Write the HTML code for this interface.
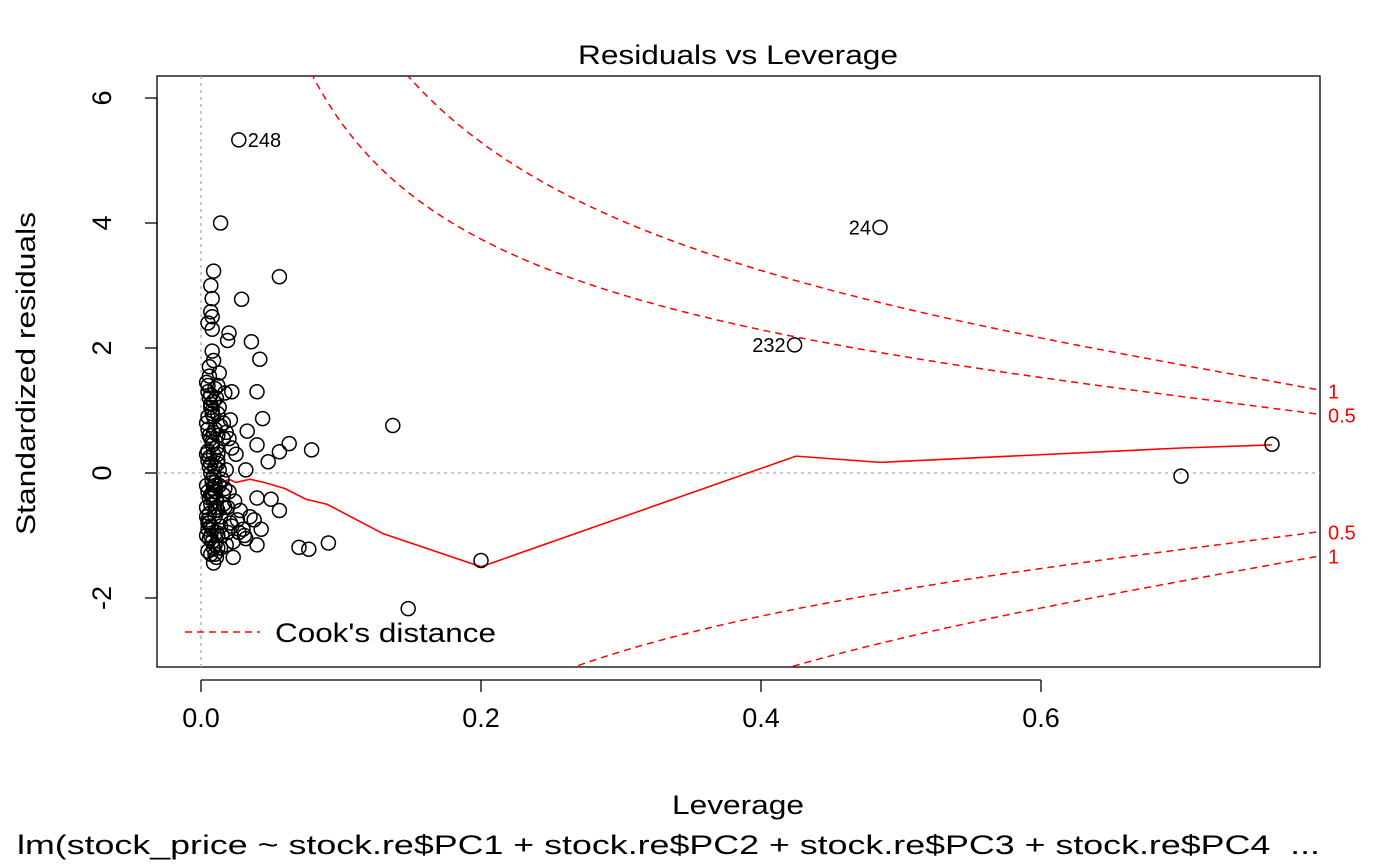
<!DOCTYPE html>
<html><head><meta charset="utf-8"><style>
html,body{margin:0;padding:0;background:#fff;width:1400px;height:865px;overflow:hidden}
svg{display:block;font-family:"Liberation Sans",Arial,sans-serif}
</style></head><body>
<svg id="chart" width="1400" height="865" viewBox="0 0 1400 865">
<defs><clipPath id="plotclip"><rect x="157" y="76" width="1163" height="591"/></clipPath></defs>
<text x="578" y="64" font-size="27" textLength="320" lengthAdjust="spacingAndGlyphs">Residuals vs Leverage</text>
<rect x="157" y="76" width="1163" height="591" fill="none" stroke="#000" stroke-width="1.3"/>
<g id="xaxis"></g>
<g id="yaxis"></g>
<text x="672" y="814" font-size="27" textLength="132" lengthAdjust="spacingAndGlyphs">Leverage</text>
<text x="17" y="854" font-size="27" textLength="1303" lengthAdjust="spacingAndGlyphs" xml:space="preserve">lm(stock_price ~ stock.re$PC1 + stock.re$PC2 + stock.re$PC3 + stock.re$PC4  ...</text>
<text transform="translate(35,535) rotate(-90)" font-size="27" textLength="323" lengthAdjust="spacingAndGlyphs">Standardized residuals</text>
<g clip-path="url(#plotclip)" id="plotarea"></g>
<g id="labels"></g>
<g>
<line x1="185" y1="632" x2="260" y2="632" stroke="#f00" stroke-width="1.5" stroke-dasharray="7,5"/>
<text x="275" y="642" font-size="27" textLength="221" lengthAdjust="spacingAndGlyphs">Cook's distance</text>
</g>
</svg>
<script>
const xTicks=[0.0,0.2,0.4,0.6];
const xTickLabels=["0.0","0.2","0.4","0.6"];
const yTicks=[-2,0,2,4,6];
const yTickLabels=["-2","0","2","4","6"];
const cookLevels=[0.5,1];
const cookLabels=["0.5","1"];
const nParams=7;
const leverage=[0.027,0.485,0.424,0.014,0.009,0.056,0.007,0.029,0.008,0.007,0.008,0.005,0.008,0.02,0.036,0.019,0.042,0.008,0.009,0.006,0.013,0.04,0.022,0.017,0.137,0.044,0.079,0.063,0.056,0.048,0.033,0.04,0.032,0.7,0.765,0.2,0.148,0.07,0.077,0.091,0.056,0.05,0.04,0.04,0.023,0.009,0.031,
0.004,0.005,0.006,0.007,0.008,0.009,0.01,0.011,0.012,0.013,0.004,0.005,0.006,0.007,0.008,0.009,0.01,0.011,0.012,0.014,0.016,0.018,0.02,0.022,0.025,0.004,0.005,0.006,0.007,0.008,0.009,0.01,0.012,0.015,0.018,0.004,0.005,0.006,0.007,0.008,0.009,0.011,0.013,0.016,0.02,0.024,0.028,0.004,0.005,0.006,0.007,0.008,0.01,0.012,0.014,0.017,0.021,0.026,0.03,0.035,0.004,0.006,0.008,0.01,0.012,0.015,0.019,0.023,0.038,0.043,0.005,0.007,0.009,0.011,0.014,0.018,0.022,0.027,0.032,0.005,0.007,0.009,0.012,0.016,0.021,0.004,0.006,0.008,0.01,0.013,0.017,
0.005,0.006,0.007,0.008,0.009,0.01,0.011,0.012,0.005,0.006,0.007,0.008,0.009,0.01,0.011,0.005,0.006,0.007,0.008,0.009,0.01,0.012,0.005,0.007,0.009,0.011,0.013,0.006,0.008,0.01,0.012,0.014,0.016,0.019];
const residuals=[5.33,3.93,2.05,4.0,3.23,3.14,3.0,2.78,2.79,2.58,2.5,2.4,2.3,2.24,2.1,2.12,1.82,1.95,1.8,1.7,1.6,1.3,1.3,1.28,0.76,0.87,0.37,0.47,0.34,0.18,0.67,0.45,0.05,-0.05,0.46,-1.4,-2.17,-1.19,-1.22,-1.12,-0.6,-0.42,-0.4,-1.15,-1.35,-1.44,-1.0,
1.45,1.4,1.2,1.1,1.0,0.9,1.35,1.2,1.4,1.05,0.8,0.7,0.6,0.55,0.5,0.65,0.7,0.4,0.6,0.75,0.55,0.65,0.55,0.4,0.3,0.3,0.2,0.1,0.0,-0.1,-0.05,0.1,0.15,-0.1,0.05,-0.2,-0.3,-0.4,-0.5,-0.35,-0.25,-0.45,-0.2,-0.5,-0.3,-0.45,-0.6,-0.7,-0.75,-0.8,-0.85,-0.9,-0.7,-0.6,-0.85,-0.55,-0.8,-0.75,-0.9,-0.7,-1.0,-1.05,-1.1,-1.15,-1.2,-1.0,-0.95,-1.1,-0.75,-0.9,-1.25,-1.3,-1.2,-1.35,-1.2,-1.15,-0.85,-0.95,-1.05,0.9,1.05,1.15,0.95,0.8,0.85,-0.55,-0.65,-0.4,-0.3,-0.2,-0.25,
0.35,0.25,0.15,-0.15,-0.35,-0.6,-0.45,0.2,-0.9,-0.65,-0.35,0.45,0.3,-0.2,-0.55,1.3,1.55,1.25,0.45,-0.05,-1.3,-1.0,-0.8,-1.0,1.15,-0.95,0.05,0.6,0.95,-0.15,0.3,-0.7,-0.35,-0.55];
const pointLabels=["248","24","232"];
const smoothX=[0.004,0.01,0.015,0.02,0.025,0.035,0.045,0.06,0.075,0.09,0.13,0.2,0.425,0.485,0.7,0.765];
const smoothY=[-0.2,-0.2,-0.15,-0.1,-0.15,-0.1,-0.15,-0.25,-0.42,-0.5,-0.97,-1.5,0.27,0.17,0.4,0.45];

const NS="http://www.w3.org/2000/svg";
const X=h=>201+1400*h, Y=r=>473-62.5*r;
function mk(tag,attrs,parent){const e=document.createElementNS(NS,tag);for(const k in attrs)e.setAttribute(k,attrs[k]);parent.appendChild(e);return e;}
const xa=document.getElementById('xaxis'), ya=document.getElementById('yaxis'), pa=document.getElementById('plotarea'), lb=document.getElementById('labels');
mk('line',{x1:X(xTicks[0]),y1:680,x2:X(xTicks[xTicks.length-1]),y2:680,stroke:'#000','stroke-width':1.3},xa);
xTicks.forEach((t,i)=>{
 const l=mk('line',{x1:X(t),y1:680,x2:X(t),y2:692,stroke:'#000','stroke-width':1.3},xa);
 
 
 const tx=mk('text',{x:X(t),y:727,'font-size':27,'text-anchor':'middle'},xa);tx.textContent=xTickLabels[i];
 
 
});
mk('line',{x1:157,y1:Y(yTicks[0]),x2:157,y2:Y(yTicks[yTicks.length-1]),stroke:'#000','stroke-width':1.3},ya);
yTicks.forEach((t,i)=>{
 const l=mk('line',{x1:145,y1:Y(t),x2:157,y2:Y(t),stroke:'#000','stroke-width':1.3},ya);
 
 
 const tx=mk('text',{transform:`translate(111,${Y(t)}) rotate(-90)`,'font-size':27,'text-anchor':'middle'},ya);tx.textContent=yTickLabels[i];
 
 
});
const vr=mk('line',{x1:X(0),y1:76,x2:X(0),y2:667,stroke:'#aaa','stroke-width':1.3,'stroke-dasharray':'3,4'},pa);


const hr=mk('line',{x1:157,y1:Y(0),x2:1320,y2:Y(0),stroke:'#aaa','stroke-width':1.3,'stroke-dasharray':'3,4'},pa);


cookLevels.forEach((c,ci)=>{
 [1,-1].forEach(s=>{
  let d='';
  for(let h=0.005;h<=0.8;h+=0.002){const r=s*Math.sqrt(c*nParams*(1-h)/h);d+=(d?'L':'M')+X(h).toFixed(1)+','+Y(r).toFixed(1);}
  const p=mk('path',{d:d,fill:'none',stroke:'#f00','stroke-width':1.5,'stroke-dasharray':'7,5'},pa);
  
  
  const rEnd=s*Math.sqrt(c*nParams*(1-0.8)/0.8);
  const t=mk('text',{x:1328,y:Y(rEnd)+8,'font-size':20,fill:'#f00'},lb);t.textContent=cookLabels[ci];
  
  
 });
});
let sd='';smoothX.forEach((h,i)=>{sd+=(i?'L':'M')+X(h)+','+Y(smoothY[i]);});
const sm=mk('path',{d:sd,fill:'none',stroke:'#f00','stroke-width':1.6},pa);


leverage.forEach((h,i)=>{
 const c=mk('circle',{cx:X(h),cy:Y(residuals[i]),r:7,fill:'none',stroke:'#000','stroke-width':1.5},pa);
 
 
});
const lp=[[X(leverage[0])+9,Y(residuals[0])+7,'start'],[X(leverage[1])-9,Y(residuals[1])+7,'end'],[X(leverage[2])-9,Y(residuals[2])+7,'end']];
pointLabels.forEach((s,i)=>{
 const t=mk('text',{x:lp[i][0],y:lp[i][1],'font-size':20,'text-anchor':lp[i][2]},lb);t.textContent=s;
 
 
});
</script>
</body></html>
